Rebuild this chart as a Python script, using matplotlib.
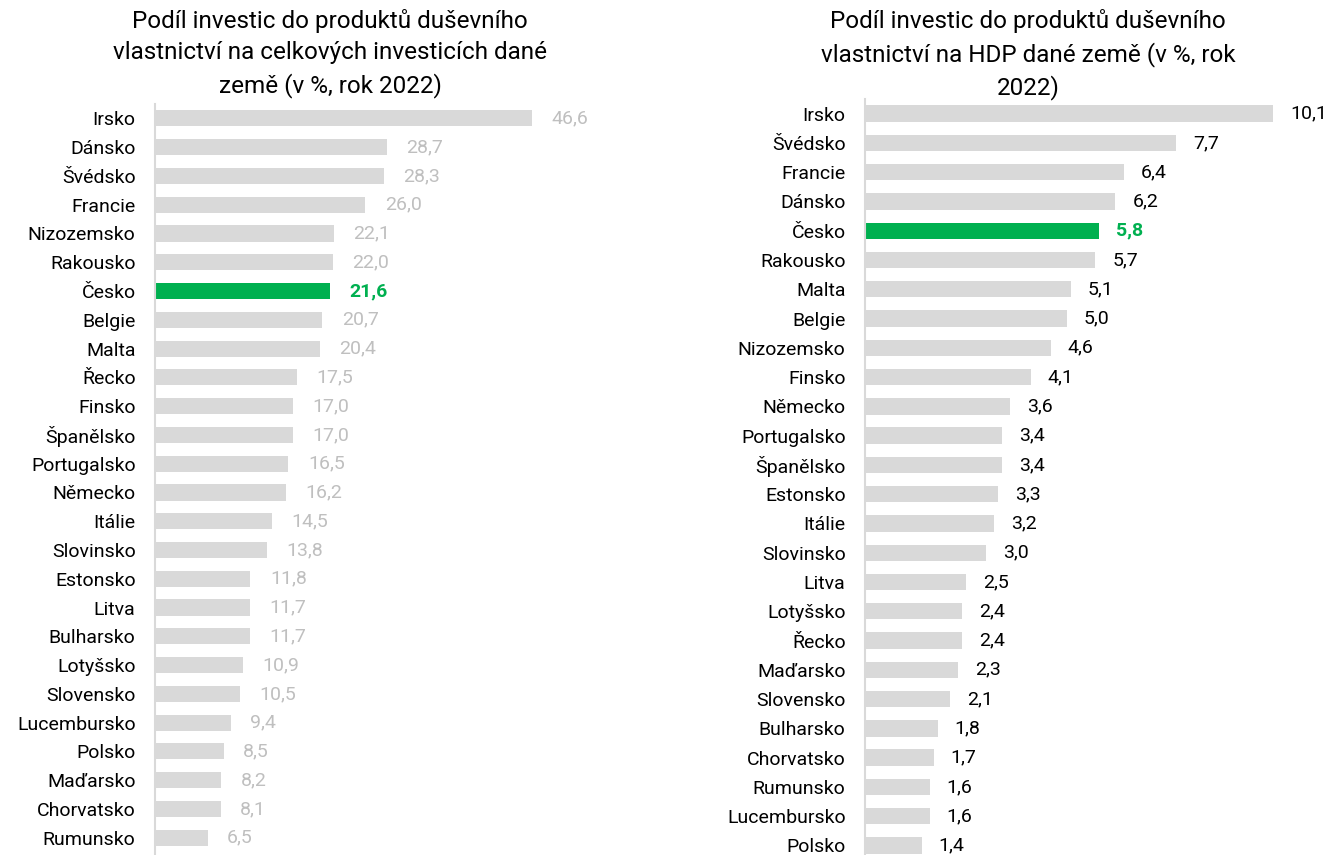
import matplotlib
matplotlib.use("Agg")
import matplotlib.pyplot as plt
import numpy as np

plt.rcParams['font.family'] = ['Liberation Sans Narrow', 'Roboto', 'DejaVu Sans']

# podíl na celkových investicích
zeme_inv = ["Irsko", "Dánsko", "Švédsko", "Francie", "Nizozemsko", "Rakousko", "Česko",
            "Belgie", "Malta", "Řecko", "Finsko", "Španělsko", "Portugalsko", "Německo",
            "Itálie", "Slovinsko", "Estonsko", "Litva", "Bulharsko", "Lotyšsko",
            "Slovensko", "Lucembursko", "Polsko", "Maďarsko", "Chorvatsko", "Rumunsko"]
hodnoty_inv = [46.6, 28.7, 28.3, 26.0, 22.1, 22.0, 21.6, 20.7, 20.4, 17.5, 17.0, 17.0,
               16.5, 16.2, 14.5, 13.8, 11.8, 11.7, 11.7, 10.9, 10.5, 9.4, 8.5, 8.2, 8.1, 6.5]

# podíl na HDP
zeme_hdp = ["Irsko", "Švédsko", "Francie", "Dánsko", "Česko", "Rakousko", "Malta",
            "Belgie", "Nizozemsko", "Finsko", "Německo", "Portugalsko", "Španělsko",
            "Estonsko", "Itálie", "Slovinsko", "Litva", "Lotyšsko", "Řecko", "Maďarsko",
            "Slovensko", "Bulharsko", "Chorvatsko", "Rumunsko", "Lucembursko", "Polsko"]
hodnoty_hdp = [10.1, 7.7, 6.4, 6.2, 5.8, 5.7, 5.1, 5.0, 4.6, 4.1, 3.6, 3.4, 3.4, 3.3,
               3.2, 3.0, 2.5, 2.4, 2.4, 2.3, 2.1, 1.8, 1.7, 1.6, 1.6, 1.4]

titulek_inv = "Podíl investic do produktů duševního\nvlastnictví na celkových investicích dané\nzemě (v %, rok 2022)"
titulek_hdp = "Podíl investic do produktů duševního\nvlastnictví na HDP dané země (v %, rok\n2022)"

SEDA = "#d9d9d9"
ZELENA = "#00b050"

W, H = 1334, 855
fig = plt.figure(figsize=(W / 100, H / 100), dpi=100)


def panel(rect, zeme, hodnoty, xmax, barva_popisku, odsazeni, titulek, title_x, title_y):
    ax = fig.add_axes(rect)
    y = np.arange(len(zeme))
    barvy = [ZELENA if z == "Česko" else SEDA for z in zeme]
    ax.barh(y, hodnoty, height=0.56, color=barvy)
    for yi, z, v in zip(y, zeme, hodnoty):
        cesko = z == "Česko"
        ax.text(v + odsazeni, yi, f"{v:.1f}".replace(".", ","), va="center", ha="left",
                fontsize=14, color=ZELENA if cesko else barva_popisku,
                fontweight="bold" if cesko else "normal")
    ax.set_yticks(y)
    ax.set_yticklabels(zeme, fontsize=14)
    ax.set_ylim(len(zeme) - 0.4, -0.5)
    ax.set_xlim(0, xmax)
    ax.tick_params(axis="y", length=0, pad=14)
    ax.set_xticks([])
    for s in ["top", "right", "bottom"]:
        ax.spines[s].set_visible(False)
    ax.spines["left"].set_color(SEDA)
    ax.spines["left"].set_linewidth(1.5)
    fig.text(title_x, title_y, titulek, ha="center", va="top", fontsize=17.5,
             linespacing=1.45)
    return ax


# levý panel: 8.09 px na jednotku, pravý: 40.4 px na jednotku
panel([155 / W, 1 - 855 / H, 50 * 8.09 / W, (855 - 104) / H], zeme_inv, hodnoty_inv,
      50, "#bfbfbf", 2.4, titulek_inv, 330 / W, 1 - 9 / H)
panel([865 / W, 1 - 863 / H, 11 * 40.4 / W, (863 - 99) / H], zeme_hdp, hodnoty_hdp,
      11, "black", 0.42, titulek_hdp, 1028 / W, 1 - 9 / H)

fig.savefig("out.png", dpi=100)
